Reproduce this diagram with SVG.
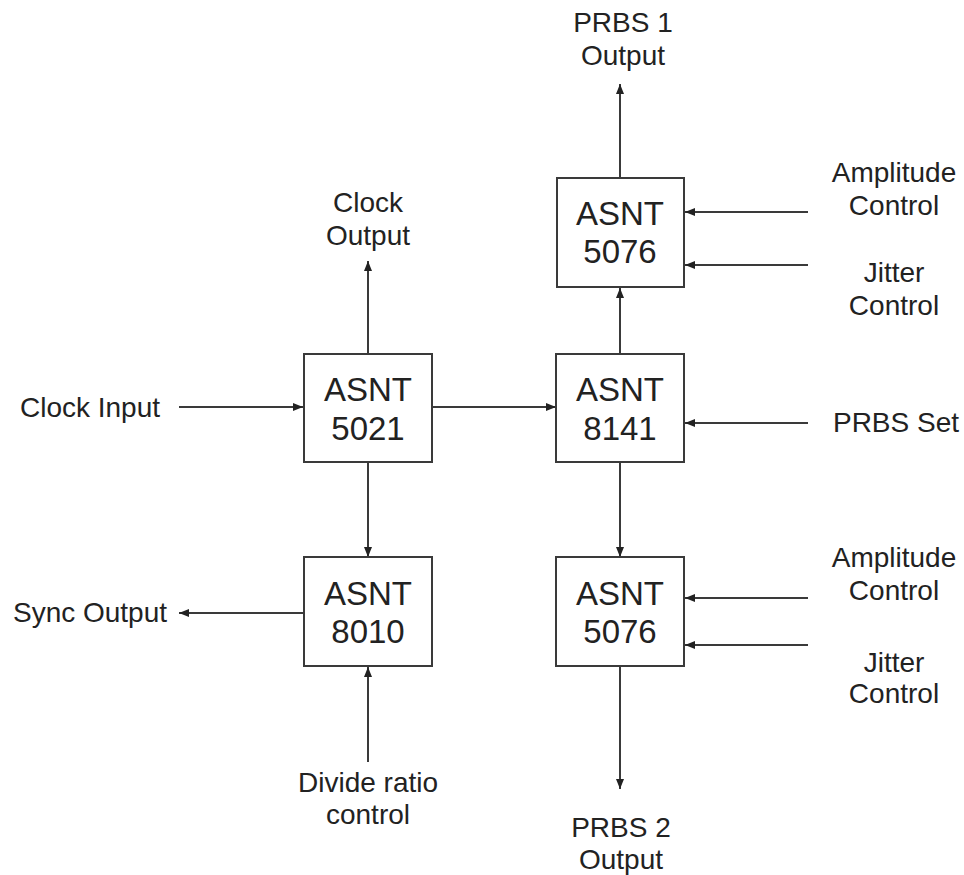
<svg xmlns="http://www.w3.org/2000/svg" width="964" height="875" viewBox="0 0 964 875">
<style>
.box{fill:#fff;stroke:#3a3a3a;stroke-width:2}
.bt{font-family:"Liberation Sans",Arial,sans-serif;font-size:33px;fill:#222;text-anchor:middle}
.lb{font-family:"Liberation Sans",Arial,sans-serif;font-size:28px;fill:#222;text-anchor:middle}
.ln{stroke:#3a3a3a;stroke-width:2;fill:none;marker-end:url(#ah)}
</style>
<defs>
<marker id="ah" markerWidth="10" markerHeight="8" refX="10" refY="4" orient="auto" markerUnits="userSpaceOnUse">
<path d="M0,0 L10,4 L0,8 Z" fill="#222"/>
</marker>
</defs>
<rect width="964" height="875" fill="#fff"/>
<g id="connectors">
<line class="ln" x1="179" y1="407" x2="303" y2="407"/>
<line class="ln" x1="432" y1="407" x2="556" y2="407"/>
<line class="ln" x1="368" y1="354" x2="368" y2="261"/>
<line class="ln" x1="368" y1="462" x2="368" y2="557"/>
<line class="ln" x1="368" y1="762" x2="368" y2="667"/>
<line class="ln" x1="304" y1="613" x2="179" y2="613"/>
<line class="ln" x1="620" y1="178" x2="620" y2="84"/>
<line class="ln" x1="620" y1="354" x2="620" y2="288"/>
<line class="ln" x1="620" y1="462" x2="620" y2="557"/>
<line class="ln" x1="620" y1="666" x2="620" y2="789"/>
<line class="ln" x1="808" y1="212" x2="685" y2="212"/>
<line class="ln" x1="808" y1="265" x2="685" y2="265"/>
<line class="ln" x1="808" y1="423" x2="685" y2="423"/>
<line class="ln" x1="808" y1="598" x2="685" y2="598"/>
<line class="ln" x1="808" y1="645" x2="685" y2="645"/>
</g>
<g id="n5021"><rect class="box" x="304" y="354" width="128" height="108"/><text class="bt" x="368" y="401">ASNT</text><text class="bt" x="368" y="440">5021</text></g>
<g id="n8141"><rect class="box" x="556" y="354" width="128" height="108"/><text class="bt" x="620" y="401">ASNT</text><text class="bt" x="620" y="440">8141</text></g>
<g id="n5076a"><rect class="box" x="557" y="178" width="127" height="109"/><text class="bt" x="620" y="225">ASNT</text><text class="bt" x="620" y="263">5076</text></g>
<g id="n8010"><rect class="box" x="304" y="557" width="128" height="109"/><text class="bt" x="368" y="605">ASNT</text><text class="bt" x="368" y="643">8010</text></g>
<g id="n5076b"><rect class="box" x="556" y="557" width="128" height="109"/><text class="bt" x="620" y="605">ASNT</text><text class="bt" x="620" y="643">5076</text></g>
<g id="labels">
<text class="lb" x="90" y="417">Clock Input</text>
<text class="lb" x="90" y="622">Sync Output</text>
<text class="lb" x="368" y="212">Clock</text>
<text class="lb" x="368" y="245">Output</text>
<text class="lb" x="368" y="792">Divide ratio</text>
<text class="lb" x="368" y="824">control</text>
<text class="lb" x="623" y="32">PRBS 1</text>
<text class="lb" x="623" y="65">Output</text>
<text class="lb" x="621" y="837">PRBS 2</text>
<text class="lb" x="621" y="869">Output</text>
<text class="lb" x="894" y="182">Amplitude</text>
<text class="lb" x="894" y="215">Control</text>
<text class="lb" x="894" y="282">Jitter</text>
<text class="lb" x="894" y="315">Control</text>
<text class="lb" x="896" y="432">PRBS Set</text>
<text class="lb" x="894" y="567">Amplitude</text>
<text class="lb" x="894" y="600">Control</text>
<text class="lb" x="894" y="672">Jitter</text>
<text class="lb" x="894" y="703">Control</text>
</g>
</svg>
